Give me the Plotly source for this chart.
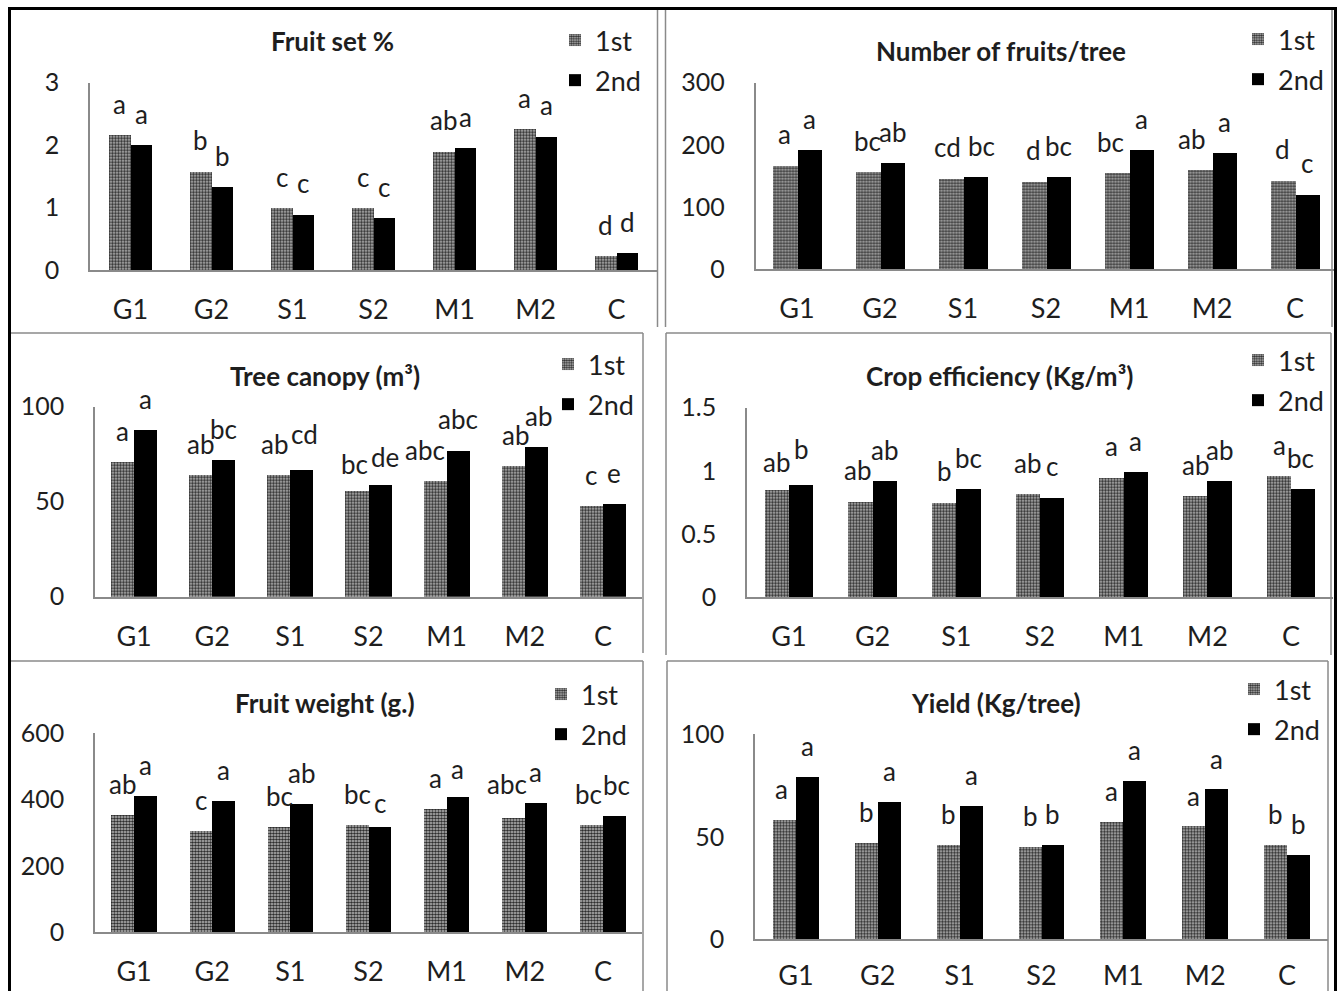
import plotly.graph_objects as go

# ---- data -------------------------------------------------------------
categories = ["G1", "G2", "S1", "S2", "M1", "M2", "C"]
seasons = ["1st", "2nd"]

fruit_set_1st = [2.17, 1.58, 1.00, 1.00, 1.90, 2.26, 0.23]
fruit_set_2nd = [2.00, 1.33, 0.89, 0.84, 1.96, 2.14, 0.28]
fruit_set_let_1st = ["a", "b", "c", "c", "ab", "a", "d"]
fruit_set_let_2nd = ["a", "b", "c", "c", "a", "a", "d"]

fruits_1st = [167, 157, 146, 141, 155, 160, 143]
fruits_2nd = [192, 171, 148, 148, 192, 187, 120]
fruits_let_1st = ["a", "bc", "cd", "d", "bc", "ab", "d"]
fruits_let_2nd = ["a", "ab", "bc", "bc", "a", "a", "c"]

canopy_1st = [71, 64, 64, 56, 61, 69, 48]
canopy_2nd = [88, 72, 67, 59, 77, 79, 49]
canopy_let_1st = ["a", "ab", "ab", "bc", "abc", "ab", "c"]
canopy_let_2nd = ["a", "bc", "cd", "de", "abc", "ab", "e"]

efficiency_1st = [0.85, 0.76, 0.75, 0.82, 0.95, 0.80, 0.96]
efficiency_2nd = [0.89, 0.92, 0.86, 0.79, 0.99, 0.92, 0.86]
efficiency_let_1st = ["ab", "ab", "b", "ab", "a", "ab", "a"]
efficiency_let_2nd = ["b", "ab", "bc", "c", "a", "ab", "bc"]

weight_1st = [354, 305, 318, 322, 371, 345, 322]
weight_2nd = [411, 394, 385, 318, 407, 390, 349]
weight_let_1st = ["ab", "c", "bc", "bc", "a", "abc", "bc"]
weight_let_2nd = ["a", "a", "ab", "c", "a", "a", "bc"]

yield_1st = [58, 47, 46, 45, 57, 55, 46]
yield_2nd = [79, 67, 65, 46, 77, 73, 41]
yield_let_1st = ["a", "b", "b", "b", "a", "a", "b"]
yield_let_2nd = ["a", "a", "a", "b", "a", "a", "b"]

# ---- page geometry (pixels) --------------------------------------------
W, H = 1337, 991
FONT = "Lato"
TXT = "#1e1e1e"
GRID_GREY = "#8a8a8a"


def fx(px):
    return px / W


def fy(py):
    return 1 - py / H


panels = [
    dict(title="Fruit set %", v1=fruit_set_1st, v2=fruit_set_2nd,
         l1=fruit_set_let_1st, l2=fruit_set_let_2nd, ymax=3, dtick=1,
         box=(90, 657, 82.7, 270), bw=0.27, title_at=(332, 41), legend_at=(555, 16),
         xstand=15),
    dict(title="Number of fruits/tree", v1=fruits_1st, v2=fruits_2nd,
         l1=fruits_let_1st, l2=fruits_let_2nd, ymax=300, dtick=100,
         box=(755.5, 1336.5, 82.7, 269), bw=0.29, title_at=(1001, 51), legend_at=(1238, 15),
         xstand=15),
    dict(title="Tree canopy (m³)", v1=canopy_1st, v2=canopy_2nd,
         l1=canopy_let_1st, l2=canopy_let_2nd, ymax=100, dtick=50,
         box=(95, 642, 406.7, 596.7), bw=0.295, title_at=(325, 376), legend_at=(548, 340),
         xstand=15),
    dict(title="Crop efficiency (Kg/m³)", v1=efficiency_1st, v2=efficiency_2nd,
         l1=efficiency_let_1st, l2=efficiency_let_2nd, ymax=1.5, dtick=0.5,
         box=(747, 1333, 407.7, 597.3), bw=0.29, title_at=(999, 376), legend_at=(1238, 336),
         xstand=15),
    dict(title="Fruit weight (g.)", v1=weight_1st, v2=weight_2nd,
         l1=weight_let_1st, l2=weight_let_2nd, ymax=600, dtick=200,
         box=(95, 642, 733, 932.3), bw=0.29, title_at=(325, 703), legend_at=(541, 670),
         xstand=15),
    dict(title="Yield (Kg/tree)", v1=yield_1st, v2=yield_2nd,
         l1=yield_let_1st, l2=yield_let_2nd, ymax=100, dtick=50,
         box=(755, 1328, 734.3, 939.3), bw=0.28, title_at=(996, 703), legend_at=(1234, 665),
         xstand=12),
]

# nudges (dx, dy in px) for letters that sit off their bar centre
nudges = {
    (1, 0, 2): (-3, 0), (1, 1, 2): (6, 0), (1, 0, 4): (-6, 0), (1, 0, 5): (-8, 0),
    (2, 0, 2): (-4, 0), (2, 1, 2): (3, 4), (2, 0, 3): (-2, -5), (2, 1, 3): (5, -3),
    (2, 0, 4): (-10, 0), (2, 0, 5): (2, 0), (2, 1, 5): (2, 0),
    (3, 0, 0): (0, -3), (3, 1, 0): (0, 5), (3, 0, 1): (-3, 0), (3, 1, 6): (-3, 0),
    (4, 1, 3): (0, -7), (4, 0, 5): (-6, 3), (4, 1, 5): (-1, 0), (4, 1, 4): (0, -3),
    (4, 0, 6): (-3, 0), (4, 1, 6): (2, 0),
    (5, 0, 0): (-3, 0),
}
LABEL_LIFT = 13

fig = go.Figure()
annotations = []
layout = {}
xs = list(range(len(categories)))

first_marker = dict(
    color="#8c8c8c",
    line=dict(width=0),
    pattern=dict(shape=".", fgcolor="#2e2e2e", bgcolor="#c2c2c2", size=3, solidity=0.6),
)
second_marker = dict(color="#000000", line=dict(width=0))

for p, cfg in enumerate(panels):
    n = "" if p == 0 else str(p + 1)
    xa, ya = "x" + n, "y" + n
    leg = "legend" + n
    w = cfg["bw"]
    for s, (vals, lets, mk) in enumerate(
        [(cfg["v1"], cfg["l1"], first_marker), (cfg["v2"], cfg["l2"], second_marker)]
    ):
        off = -w if s == 0 else 0.0
        fig.add_trace(go.Bar(
            x=xs, y=vals, width=w, offset=off, name=seasons[s], marker=mk,
            xaxis=xa, yaxis=ya, legend=leg, legendgroup=f"{p}-{s}",
            showlegend=True, hoverinfo="skip",
        ))
        for i, (v, t) in enumerate(zip(vals, lets)):
            dx, dy = nudges.get((p, s, i), (0, 0))
            annotations.append(dict(
                x=i + off + w / 2, y=v, xref=xa, yref=ya, text=t, showarrow=False,
                xanchor="center", yanchor="bottom", xshift=dx, yshift=LABEL_LIFT + dy,
                font=dict(family=FONT, size=26, color=TXT),
            ))

    x0, x1, ytop, ybot = cfg["box"]
    layout["xaxis" + n] = dict(
        domain=[fx(x0), fx(x1)], anchor=ya, range=[-0.5, len(categories) - 0.5],
        tickmode="array", tickvals=xs, ticktext=categories, ticks="",
        showline=True, linecolor=GRID_GREY, linewidth=1.5, showgrid=False, zeroline=False,
        tickfont=dict(family=FONT, size=27, color=TXT), ticklabelstandoff=cfg["xstand"],
        automargin=False, fixedrange=True,
    )
    layout["yaxis" + n] = dict(
        domain=[fy(ybot), fy(ytop)], anchor=xa, range=[0, cfg["ymax"]],
        tickmode="linear", tick0=0, dtick=cfg["dtick"], ticks="",
        showline=True, linecolor=GRID_GREY, linewidth=1.5, showgrid=False, zeroline=False,
        tickfont=dict(family=FONT, size=25, color=TXT), ticklabelstandoff=24,
        automargin=False, fixedrange=True,
    )
    tx, ty = cfg["title_at"]
    annotations.append(dict(
        x=fx(tx), y=fy(ty), xref="paper", yref="paper", showarrow=False,
        text="<b>" + cfg["title"] + "</b>", xanchor="center", yanchor="middle",
        font=dict(family=FONT, size=26, color=TXT),
    ))
    lx, ly = cfg["legend_at"]
    layout[leg] = dict(
        x=fx(lx), y=fy(ly), xanchor="left", yanchor="top", bgcolor="rgba(0,0,0,0)",
        font=dict(family=FONT, size=27, color=TXT), tracegroupgap=2, itemwidth=30,
        itemclick=False, itemdoubleclick=False,
    )

# panel frames
shapes = []


def seg(x0, y0, x1, y1, color, width):
    shapes.append(dict(type="line", xref="paper", yref="paper",
                       x0=fx(x0), y0=fy(y0), x1=fx(x1), y1=fy(y1),
                       line=dict(color=color, width=width)))


seg(9.5, 8.5, 9.5, 991, "#000000", 3)
seg(8, 8.5, 1337, 8.5, "#000000", 3)
seg(1335.5, 8.5, 1335.5, 991, "#000000", 3)
seg(657.5, 10, 657.5, 327, GRID_GREY, 1.5)
seg(665.5, 10, 665.5, 327, GRID_GREY, 1.5)
seg(1332, 10, 1332, 327, GRID_GREY, 1.5)
seg(11, 333, 643, 333, GRID_GREY, 1.5)
seg(643, 333, 643, 653, GRID_GREY, 1.5)
seg(666, 333, 1331, 333, GRID_GREY, 1.5)
seg(666, 333, 666, 655, GRID_GREY, 1.5)
seg(1331, 333, 1331, 655, GRID_GREY, 1.5)
seg(11, 661, 643, 661, GRID_GREY, 1.5)
seg(643, 661, 643, 991, GRID_GREY, 1.5)
seg(667, 661, 1328, 661, GRID_GREY, 1.5)
seg(667, 661, 667, 991, GRID_GREY, 1.5)
seg(1328, 661, 1328, 991, GRID_GREY, 1.5)

fig.update_layout(
    template="none",
    width=W, height=H, margin=dict(l=0, r=0, t=0, b=0, pad=0, autoexpand=False),
    paper_bgcolor="white", plot_bgcolor="white",
    barmode="overlay", bargap=0, showlegend=True,
    annotations=annotations, shapes=shapes,
    font=dict(family=FONT, color=TXT),
    **layout,
)

fig.write_html("out.html", config={"displayModeBar": False})
